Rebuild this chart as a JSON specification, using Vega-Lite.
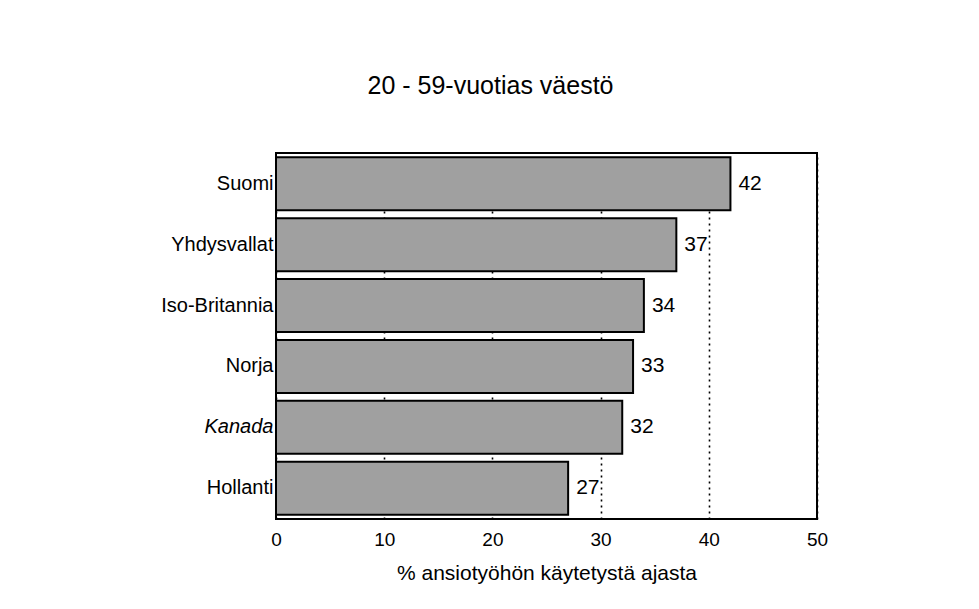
{
  "$schema": "https://vega.github.io/schema/vega-lite/v6.json",
  "autosize": {"type": "none"},
  "padding": {"left": 276, "top": 153, "right": 162, "bottom": 90},
  "width": 541,
  "height": 366,
  "background": "white",
  "title": {
    "text": "20 - 59-vuotias väestö",
    "anchor": "middle",
    "frame": "group",
    "dx": -56,
    "offset": 34,
    "baseline": "alphabetic",
    "font": "Liberation Sans",
    "fontSize": 25,
    "fontWeight": "normal",
    "color": "black"
  },
  "config": {
    "view": {"stroke": "black", "strokeWidth": 2},
    "font": "Liberation Sans"
  },
  "data": {
    "values": [
      {"maa": "Suomi", "osuus": 42},
      {"maa": "Yhdysvallat", "osuus": 37},
      {"maa": "Iso-Britannia", "osuus": 34},
      {"maa": "Norja", "osuus": 33},
      {"maa": "Kanada", "osuus": 32},
      {"maa": "Hollanti", "osuus": 27}
    ]
  },
  "encoding": {
    "y": {
      "field": "maa",
      "type": "nominal",
      "sort": null,
      "scale": {"paddingInner": 0.13, "paddingOuter": 0.07},
      "axis": {
        "title": null,
        "domain": false,
        "ticks": false,
        "labelPadding": 3,
        "labelFont": "Liberation Sans",
        "labelFontSize": 20,
        "labelColor": "black",
        "labelFontStyle": {"condition": {"test": "datum.value == 'Kanada'", "value": "italic"}, "value": "normal"}
      }
    },
    "x": {
      "field": "osuus",
      "type": "quantitative",
      "scale": {"domain": [0, 50], "nice": false},
      "axis": {
        "title": "% ansiotyöhön käytetystä ajasta",
        "values": [0, 10, 20, 30, 40, 50],
        "domain": false,
        "ticks": false,
        "grid": true,
        "gridColor": "black",
        "gridDash": [2, 4],
        "gridWidth": 1.6,
        "gridOpacity": 1,
        "labelPadding": 11,
        "labelFont": "Liberation Sans",
        "labelFontSize": 19,
        "labelColor": "black",
        "labelFlush": false,
        "titleFont": "Liberation Sans",
        "titleFontSize": 21,
        "titleFontWeight": "normal",
        "titleColor": "black",
        "titlePadding": 13
      }
    }
  },
  "layer": [
    {
      "mark": {"type": "bar", "fill": "#a0a0a0", "stroke": "black", "strokeWidth": 2}
    },
    {
      "mark": {"type": "text", "align": "left", "baseline": "middle", "dx": 8, "fontSize": 21, "font": "Liberation Sans", "color": "black"},
      "encoding": {"text": {"field": "osuus", "type": "quantitative"}}
    }
  ]
}
